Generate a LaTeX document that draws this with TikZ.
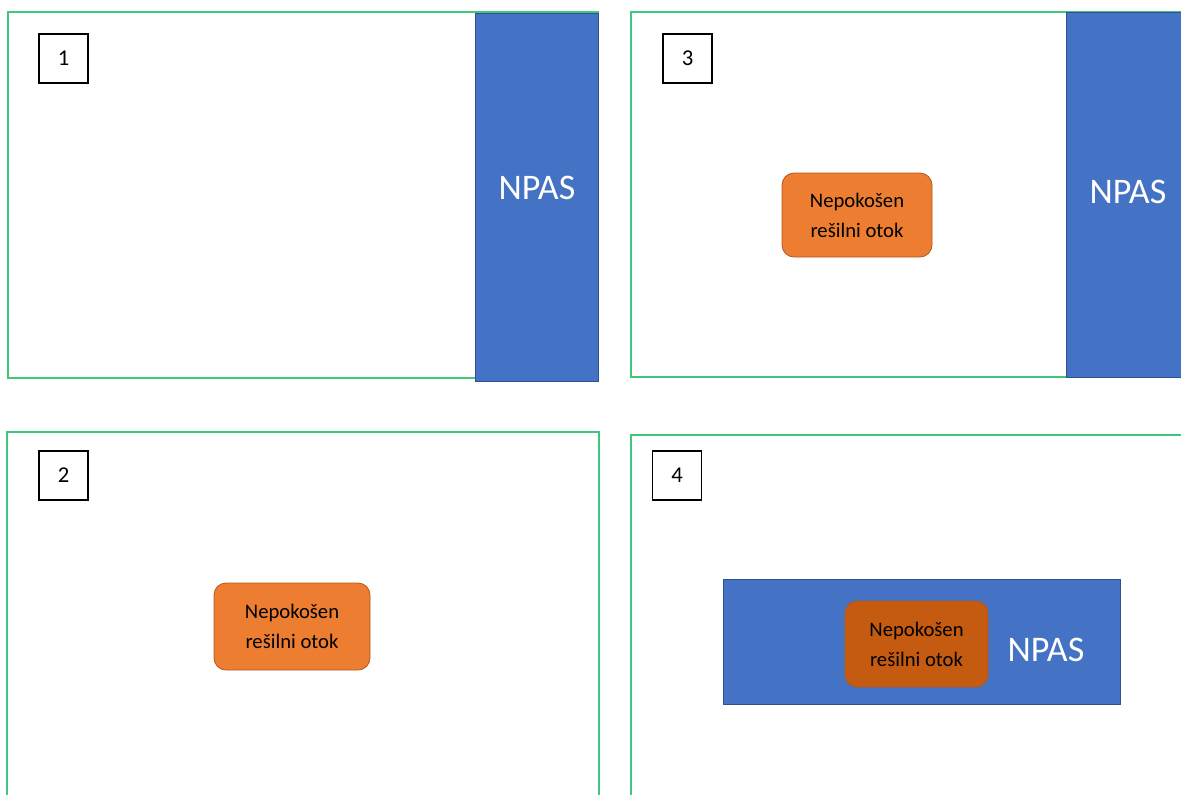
\documentclass[tikz,border=0pt]{standalone}
\usepackage{fontspec}
\setmainfont{Carlito}
\definecolor{okvir}{HTML}{3FC77A}
\definecolor{npasmodra}{HTML}{4472C4}
\definecolor{npasrob}{HTML}{2F528F}
\definecolor{otok}{HTML}{ED7D31}
\definecolor{otoktemen}{HTML}{C55A11}
\definecolor{otokrob}{HTML}{AE5A21}
\tikzset{
  frame/.style={draw=okvir,line width=1.1pt},
  npasbox/.style={fill=npasmodra,draw=npasrob,line width=.6pt},
  npastext/.style={text=white,font=\fontsize{27}{32}\selectfont,inner sep=0pt},
  numbox/.style={draw=black,line width=1.1pt,minimum width=36.5pt,minimum height=36.5pt,
    inner sep=0pt,font=\fontsize{17}{20}\selectfont},
  islandbox/.style={fill=otok,draw=otokrob,line width=.6pt,rounded corners=9pt,
    align=center,inner sep=0pt,font=\fontsize{15.5}{22.5}\selectfont}
}
\begin{document}
\begin{tikzpicture}[x=0.75pt,y=-0.75pt]
  \clip (0,0) rectangle (1181,794);
  \fill[white] (0,0) rectangle (1181,794);

% 1
\draw[frame] (8,12) rectangle (598,378);
\draw[npasbox] (475,13) rectangle (598,381);
\node[npastext] (npas1) at (537,188) {NPAS};
\node[numbox] (num1) at (63.5,58.5) {1};

% 3
\draw[frame] (631,12) rectangle (1200,377);
\draw[npasbox] (1066,12) rectangle (1200,377);
\node[npastext] (npas3) at (1128,192) {NPAS};
\node[numbox] (num3) at (687.5,58.5) {3};
\node[islandbox,minimum width=112.5pt,minimum height=63pt] (otok3) at (857,215)
  {Nepokošen\\rešilni otok};

% 2
\draw[frame] (7,432) rectangle (599,820);
\node[numbox] (num2) at (63.5,475.5) {2};
\node[islandbox,minimum width=117pt,minimum height=65.25pt] (otok2) at (292,626.5)
  {Nepokošen\\rešilni otok};

% 4
\draw[frame] (631,435) rectangle (1200,820);
\node[numbox] (num4) at (677,475.5) {4};
\draw[npasbox] (723,579) rectangle (1120,704);
\node[islandbox,fill=otoktemen,minimum width=107.25pt,minimum height=64.5pt] (otok4) at (916.5,644)
  {Nepokošen\\rešilni otok};
\node[npastext] (npas4) at (1046,650) {NPAS};

\end{tikzpicture}
\end{document}
